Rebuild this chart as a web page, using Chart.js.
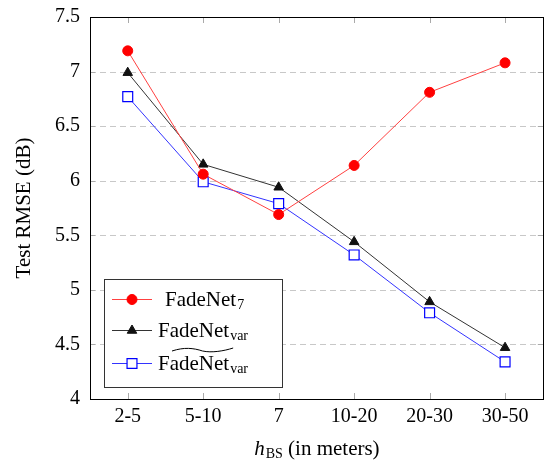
<!DOCTYPE html>
<html>
<head>
<meta charset="utf-8">
<script src="https://cdn.jsdelivr.net/npm/chart.js@4/dist/chart.umd.min.js"></script>
<style>
  html, body { margin: 0; padding: 0; background: #fff; }
  #wrap { width: 551px; height: 463px; }
</style>
</head>
<body>
<div id="wrap"><canvas id="chart" width="551" height="463"></canvas></div>
<script>
// Dữ liệu
const categories = ['2-5', '5-10', '7', '10-20', '20-30', '30-50'];
const fadeNet7 = [7.19, 6.06, 5.69, 6.14, 6.81, 7.08];
const fadeNetVar = [6.99, 6.15, 5.94, 5.44, 4.89, 4.47];
const fadeNetVarTilde = [6.77, 5.99, 5.79, 5.32, 4.79, 4.34];
const yTicks = [4, 4.5, 5, 5.5, 6, 6.5, 7, 7.5];

const serif = '"Liberation Serif", "DejaVu Serif", serif';

// Vẽ khung, lưới nét đứt, vạch chia và chú thích
const framePlugin = {
    id: 'frame',
    beforeDatasetsDraw(chart) {
        const { ctx, chartArea: a, scales } = chart;
        ctx.save();
        ctx.strokeStyle = '#c8c8c8';
        ctx.lineWidth = 1;
        ctx.setLineDash([6, 4]);
        scales.y.ticks.forEach((t, i) => {
            if (i === 0 || i === scales.y.ticks.length - 1) return;
            const y = Math.round(scales.y.getPixelForValue(t.value)) + 0.5;
            ctx.beginPath();
            ctx.moveTo(a.left, y);
            ctx.lineTo(a.right, y);
            ctx.stroke();
        });
        ctx.setLineDash([]);
        ctx.strokeStyle = '#aaaaaa';
        scales.y.ticks.forEach(t => {
            const y = Math.round(scales.y.getPixelForValue(t.value)) + 0.5;
            ctx.beginPath();
            ctx.moveTo(a.left, y); ctx.lineTo(a.left + 5, y);
            ctx.moveTo(a.right, y); ctx.lineTo(a.right - 5, y);
            ctx.stroke();
        });
        categories.forEach((c, i) => {
            const x = Math.round(scales.x.getPixelForValue(i)) + 0.5;
            ctx.beginPath();
            ctx.moveTo(x, a.top); ctx.lineTo(x, a.top + 6);
            ctx.moveTo(x, a.bottom); ctx.lineTo(x, a.bottom - 6);
            ctx.stroke();
        });
        ctx.restore();
    },
    afterDraw(chart) {
        const { ctx, chartArea: a } = chart;
        ctx.save();
        // khung biểu đồ
        ctx.strokeStyle = '#000';
        ctx.lineWidth = 1;
        ctx.strokeRect(Math.round(a.left) + 0.5, Math.round(a.top) + 0.5,
            Math.round(a.right - a.left), Math.round(a.bottom - a.top));

        // tiêu đề trục x: h_BS (in meters)
        const cx = (a.left + a.right) / 2;
        const by = 455;
        ctx.fillStyle = '#000';
        ctx.textBaseline = 'alphabetic';
        ctx.font = 'italic 21px ' + serif;
        const wH = ctx.measureText('h').width;
        ctx.font = '14px ' + serif;
        const wBS = ctx.measureText('BS').width;
        ctx.font = '21px ' + serif;
        const wRest = ctx.measureText(' (in meters)').width;
        let x0 = cx - (wH + wBS + wRest) / 2;
        ctx.font = 'italic 21px ' + serif;
        ctx.fillText('h', x0, by);
        ctx.font = '14px ' + serif;
        ctx.fillText('BS', x0 + wH + 1, by + 3);
        ctx.font = '21px ' + serif;
        ctx.fillText(' (in meters)', x0 + wH + wBS + 1, by);

        // chú thích
        const lx = a.left + 14, ly = a.bottom - 120, lw = 178, lh = 108;
        ctx.fillStyle = '#fff';
        ctx.fillRect(lx, ly, lw, lh);
        ctx.strokeStyle = '#333';
        ctx.strokeRect(lx + 0.5, ly + 0.5, lw, lh);
        const rows = [
            { ds: 0, y: ly + 20, sub: '7', tilde: false, tx: lx + 61 },
            { ds: 1, y: ly + 51, sub: 'var', tilde: false, tx: lx + 54 },
            { ds: 2, y: ly + 84, sub: 'var', tilde: true, tx: lx + 54 }
        ];
        rows.forEach(r => {
            const d = chart.data.datasets[r.ds];
            ctx.strokeStyle = d.borderColor;
            ctx.lineWidth = 1;
            ctx.beginPath();
            ctx.moveTo(lx + 8, r.y + 0.5);
            ctx.lineTo(lx + 48, r.y + 0.5);
            ctx.stroke();
            ctx.fillStyle = d.pointBackgroundColor;
            ctx.strokeStyle = d.pointBorderColor;
            ctx.lineWidth = d.pointBorderWidth || 1;
            Chart.helpers.drawPoint(ctx, {
                pointStyle: d.pointStyle, radius: d.pointRadius, borderWidth: d.pointBorderWidth || 1
            }, lx + 28, r.y + 0.5);
            ctx.fillStyle = '#000';
            ctx.font = '21px ' + serif;
            const tw = ctx.measureText('FadeNet').width;
            ctx.fillText('FadeNet', r.tx, r.y + 7);
            ctx.font = '14px ' + serif;
            ctx.fillText(r.sub, r.tx + tw + 1, r.y + 10);
            if (r.tilde) {
                const tx0 = r.tx + 14, tx1 = r.tx + tw + 4, ty = r.y - 13;
                const w = tx1 - tx0;
                ctx.strokeStyle = '#000';
                ctx.lineWidth = 1;
                ctx.beginPath();
                ctx.moveTo(tx0, ty + 1);
                ctx.bezierCurveTo(tx0 + w * 0.2, ty - 3, tx0 + w * 0.35, ty - 2, tx0 + w * 0.5, ty + 1);
                ctx.bezierCurveTo(tx0 + w * 0.65, ty + 3, tx0 + w * 0.85, ty + 1, tx1, ty - 2);
                ctx.stroke();
            }
        });
        ctx.restore();
    }
};

const ctx = document.getElementById('chart').getContext('2d');
new Chart(ctx, {
    type: 'line',
    data: {
        labels: categories,
        datasets: [
            {
                label: 'FadeNet7',
                data: fadeNet7,
                borderColor: '#ff4040',
                backgroundColor: '#ff0000',
                pointBackgroundColor: '#ff0000',
                pointBorderColor: '#ff0000',
                pointStyle: 'circle',
                pointRadius: 5,
                pointBorderWidth: 1,
                borderWidth: 1,
                tension: 0
            },
            {
                label: 'FadeNetvar',
                data: fadeNetVar,
                borderColor: '#333333',
                backgroundColor: '#111111',
                pointBackgroundColor: '#111111',
                pointBorderColor: '#111111',
                pointStyle: 'triangle',
                pointRadius: 5.5,
                pointBorderWidth: 1,
                borderWidth: 1,
                tension: 0
            },
            {
                label: 'FadeNetvar~',
                data: fadeNetVarTilde,
                borderColor: '#3333ff',
                backgroundColor: '#ffffff',
                pointBackgroundColor: '#ffffff',
                pointBorderColor: '#0000ff',
                pointStyle: 'rect',
                pointRadius: 7,
                pointBorderWidth: 1.2,
                borderWidth: 1,
                tension: 0
            }
        ]
    },
    options: {
        responsive: false,
        animation: false,
        layout: { padding: { left: 0, right: 4, top: 17, bottom: 0 } },
        plugins: {
            legend: { display: false },
            tooltip: { enabled: false }
        },
        scales: {
            x: {
                offset: true,
                grid: { display: false, drawTicks: false },
                border: { display: false },
                ticks: {
                    color: '#000',
                    font: { family: serif, size: 20 },
                    padding: 6,
                    maxRotation: 0
                },
                afterFit(scale) {
                    scale.height = 64;
                    scale.paddingLeft = 0;
                    scale.paddingRight = 0;
                }
            },
            y: {
                min: 4,
                max: 7.5,
                grid: { display: false, drawTicks: false },
                border: { display: false },
                afterBuildTicks(scale) { scale.ticks = yTicks.map(v => ({ value: v })); },
                ticks: {
                    color: '#000',
                    font: { family: serif, size: 20 },
                    padding: 10,
                    callback: v => String(v)
                },
                title: {
                    display: true,
                    text: 'Test RMSE (dB)',
                    color: '#000',
                    font: { family: serif, size: 21 },
                    padding: { top: 12, bottom: 0 }
                },
                afterFit(scale) {
                    scale.width = 90;
                    scale.paddingTop = 0;
                    scale.paddingBottom = 0;
                }
            }
        }
    },
    plugins: [framePlugin]
});
</script>
</body>
</html>
